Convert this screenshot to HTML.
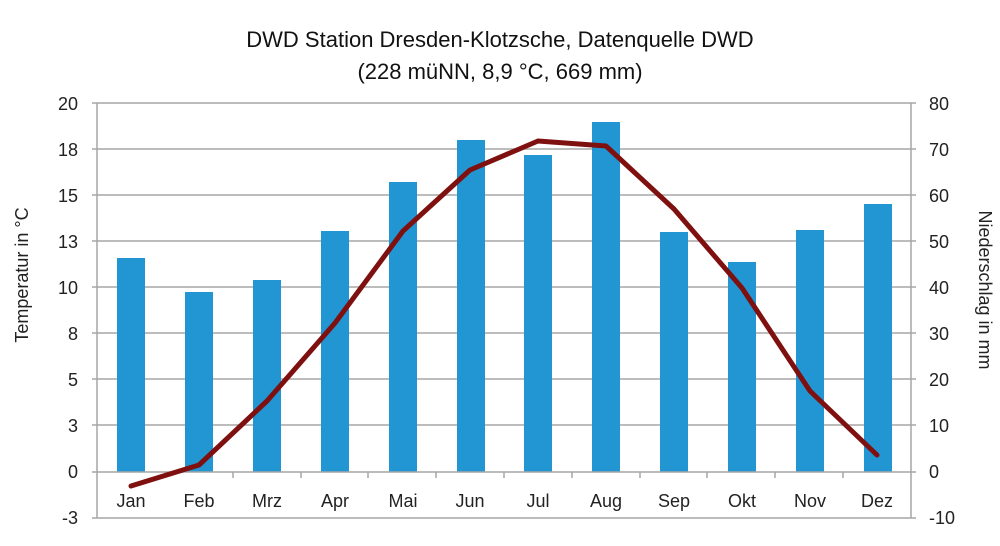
<!DOCTYPE html>
<html><head><meta charset="utf-8"><style>body{margin:0;background:#fff}</style></head><body>
<svg width="1000" height="541" xmlns="http://www.w3.org/2000/svg" font-family="Liberation Sans, sans-serif">
<rect width="1000" height="541" fill="#fff"/>
<text x="500" y="47" font-size="22" text-anchor="middle" fill="#111">DWD Station Dresden-Klotzsche, Datenquelle DWD</text>
<text x="500" y="79" font-size="22" text-anchor="middle" fill="#111">(228 müNN, 8,9 °C, 669 mm)</text>
<g stroke="#a6a6a6" stroke-width="1.5">
<line x1="92" y1="103" x2="916" y2="103"/><line x1="92" y1="149" x2="916" y2="149"/>
<line x1="92" y1="195" x2="916" y2="195"/><line x1="92" y1="241" x2="916" y2="241"/>
<line x1="92" y1="287" x2="916" y2="287"/><line x1="92" y1="333" x2="916" y2="333"/>
<line x1="92" y1="379" x2="916" y2="379"/><line x1="92" y1="425" x2="916" y2="425"/>
<line x1="92" y1="518" x2="916" y2="518"/>
<line x1="97" y1="103" x2="97" y2="518"/><line x1="911" y1="103" x2="911" y2="518"/>
</g>
<g fill="#2196d3">
<rect x="117" y="258" width="28" height="214"/><rect x="185" y="292" width="28" height="180"/>
<rect x="253" y="280" width="28" height="192"/><rect x="321" y="231" width="28" height="241"/>
<rect x="389" y="182" width="28" height="290"/><rect x="457" y="140" width="28" height="332"/>
<rect x="524" y="155" width="28" height="317"/><rect x="592" y="122" width="28" height="350"/>
<rect x="660" y="232" width="28" height="240"/><rect x="728" y="262" width="28" height="210"/>
<rect x="796" y="230" width="28" height="242"/><rect x="864" y="204" width="28" height="268"/>
</g>
<g stroke="#a6a6a6" stroke-width="1.5">
<line x1="92" y1="472" x2="916" y2="472"/>
<line x1="165" y1="472" x2="165" y2="478"/><line x1="233" y1="472" x2="233" y2="478"/><line x1="301" y1="472" x2="301" y2="478"/><line x1="368" y1="472" x2="368" y2="478"/><line x1="436" y1="472" x2="436" y2="478"/><line x1="504" y1="472" x2="504" y2="478"/><line x1="572" y1="472" x2="572" y2="478"/><line x1="640" y1="472" x2="640" y2="478"/><line x1="707" y1="472" x2="707" y2="478"/><line x1="775" y1="472" x2="775" y2="478"/><line x1="843" y1="472" x2="843" y2="478"/>
</g>
<polyline fill="none" stroke="#7f1010" stroke-width="5" stroke-linejoin="round" stroke-linecap="round" points="131,486 199,465 267,401 335,323 403,231 470,170 538,141 606,146 674,209 742,288 810,391 877,455"/>
<g font-size="18" fill="#222" text-anchor="end">
<text x="78" y="110">20</text><text x="78" y="156">18</text><text x="78" y="202">15</text><text x="78" y="248">13</text><text x="78" y="294">10</text><text x="78" y="340">8</text><text x="78" y="386">5</text><text x="78" y="432">3</text><text x="78" y="478">0</text><text x="78" y="524">-3</text>
</g>
<g font-size="18" fill="#222" text-anchor="start">
<text x="929" y="110">80</text><text x="929" y="156">70</text><text x="929" y="202">60</text><text x="929" y="248">50</text><text x="929" y="294">40</text><text x="929" y="340">30</text><text x="929" y="386">20</text><text x="929" y="432">10</text><text x="929" y="478">0</text><text x="929" y="524">-10</text>
</g>
<g font-size="18" fill="#222" text-anchor="middle">
<text x="131" y="507">Jan</text><text x="199" y="507">Feb</text><text x="267" y="507">Mrz</text><text x="335" y="507">Apr</text><text x="403" y="507">Mai</text><text x="470" y="507">Jun</text><text x="538" y="507">Jul</text><text x="606" y="507">Aug</text><text x="674" y="507">Sep</text><text x="742" y="507">Okt</text><text x="810" y="507">Nov</text><text x="877" y="507">Dez</text>
</g>
<text transform="translate(28,275) rotate(-90)" font-size="18" fill="#222" text-anchor="middle">Temperatur in °C</text>
<text transform="translate(979,290) rotate(90)" font-size="18" fill="#222" text-anchor="middle">Niederschlag in mm</text>
</svg>
</body></html>
